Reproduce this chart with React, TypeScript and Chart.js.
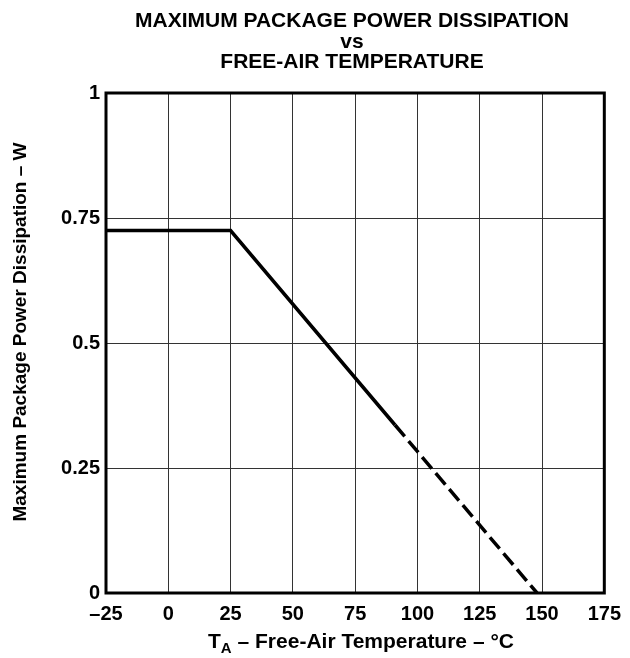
import React, { useEffect, useRef } from "react";
import { Chart, registerables } from "chart.js";

Chart.register(...registerables);

const titleLines = ["MAXIMUM PACKAGE POWER DISSIPATION", "vs", "FREE-AIR TEMPERATURE"];
const yAxisTitle = "Maximum Package Power Dissipation – W";
const xAxisTitleMain = "T";
const xAxisTitleSub = "A";
const xAxisTitleRest = " – Free-Air Temperature – °C";

const xTickValues = [-25, 0, 25, 50, 75, 100, 125, 150, 175];
const xTickLabels = ["–25", "0", "25", "50", "75", "100", "125", "150", "175"];
const yTickValues = [0, 0.25, 0.5, 0.75, 1];
const yTickLabels = ["0", "0.25", "0.5", "0.75", "1"];

// solid portion of derating curve
const solidTemps = [-25, 25, 91];
const solidPower = [0.725, 0.725, 0.336];
// dashed portion
const dashedTemps = [91, 148];
const dashedPower = [0.336, 0];

const FONT = "'Liberation Sans', Arial, sans-serif";

export default function App() {
  const ref = useRef<HTMLCanvasElement | null>(null);

  useEffect(() => {
    if (!ref.current) return;
    const textPlugin = {
      id: "textPlugin",
      afterDraw(chart: any) {
        const ctx = chart.ctx;
        const ca = chart.chartArea;
        ctx.save();
        // frame
        ctx.strokeStyle = "#000";
        ctx.lineWidth = 3;
        ctx.strokeRect(ca.left, ca.top, ca.right - ca.left, ca.bottom - ca.top);
        // title
        ctx.fillStyle = "#000";
        ctx.textAlign = "center";
        ctx.textBaseline = "alphabetic";
        ctx.font = `bold 21px ${FONT}`;
        const cx = 352;
        ctx.fillText(titleLines[0], cx, 27);
        ctx.fillText(titleLines[1], cx, 48);
        ctx.fillText(titleLines[2], cx, 68);
        // y axis title
        ctx.save();
        ctx.translate(26, 332);
        ctx.rotate(-Math.PI / 2);
        ctx.font = `bold 19px ${FONT}`;
        ctx.textAlign = "center";
        ctx.fillText(yAxisTitle, 0, 0);
        ctx.restore();
        // x axis title with subscript
        ctx.font = `bold 21px ${FONT}`;
        const wT = ctx.measureText(xAxisTitleMain).width;
        const wRest = ctx.measureText(xAxisTitleRest).width;
        ctx.font = `bold 15px ${FONT}`;
        const wA = ctx.measureText(xAxisTitleSub).width;
        const total = wT + wA + wRest;
        let x0 = 361 - total / 2;
        const by = 648;
        ctx.textAlign = "left";
        ctx.font = `bold 21px ${FONT}`;
        ctx.fillText(xAxisTitleMain, x0, by);
        x0 += wT;
        ctx.font = `bold 15px ${FONT}`;
        ctx.fillText(xAxisTitleSub, x0, by + 5);
        x0 += wA;
        ctx.font = `bold 21px ${FONT}`;
        ctx.fillText(xAxisTitleRest, x0, by);
        ctx.restore();
      },
    };

    const chart = new Chart(ref.current, {
      type: "line",
      data: {
        datasets: [
          {
            data: solidTemps.map((t, i) => ({ x: t, y: solidPower[i] })),
            borderColor: "#000",
            borderWidth: 3.5,
            pointRadius: 0,
            fill: false,
            tension: 0,
          },
          {
            data: dashedTemps.map((t, i) => ({ x: t, y: dashedPower[i] })),
            borderColor: "#000",
            borderWidth: 3.5,
            borderDash: [15, 6],
            pointRadius: 0,
            fill: false,
            tension: 0,
          },
        ],
      },
      options: {
        animation: false,
        responsive: false,
        layout: { padding: { top: 93, right: 22, left: 0, bottom: 0 } },
        plugins: { legend: { display: false }, tooltip: { enabled: false }, title: { display: false } },
        scales: {
          x: {
            type: "linear",
            min: -25,
            max: 175,
            afterFit(scale: any) {
              scale.height = 65;
            },
            afterBuildTicks(scale: any) {
              scale.ticks = xTickValues.map((v) => ({ value: v }));
            },
            grid: { color: "#333", lineWidth: 1, drawTicks: false },
            border: { display: false },
            ticks: {
              padding: 9,
              color: "#000",
              font: { family: FONT, size: 20, weight: "bold" },
              maxRotation: 0,
              callback: (v: any) => {
                const i = xTickValues.indexOf(Number(v));
                return i >= 0 ? xTickLabels[i] : "";
              },
            },
          },
          y: {
            type: "linear",
            min: 0,
            max: 1,
            afterFit(scale: any) {
              scale.width = 106;
            },
            afterBuildTicks(scale: any) {
              scale.ticks = yTickValues.map((v) => ({ value: v }));
            },
            grid: { color: "#333", lineWidth: 1, drawTicks: false },
            border: { display: false },
            ticks: {
              padding: 6,
              color: "#000",
              font: { family: FONT, size: 20, weight: "bold" },
              callback: (v: any) => {
                const i = yTickValues.indexOf(Number(v));
                return i >= 0 ? yTickLabels[i] : "";
              },
            },
          },
        },
      },
      plugins: [textPlugin],
    } as any);
    return () => chart.destroy();
  }, []);

  return (
    <div style={{ position: "absolute", left: 0, top: 0, width: 630, height: 658, background: "#fff" }}>
      <canvas ref={ref} width={630} height={658} style={{ width: 630, height: 658 }} />
    </div>
  );
}
